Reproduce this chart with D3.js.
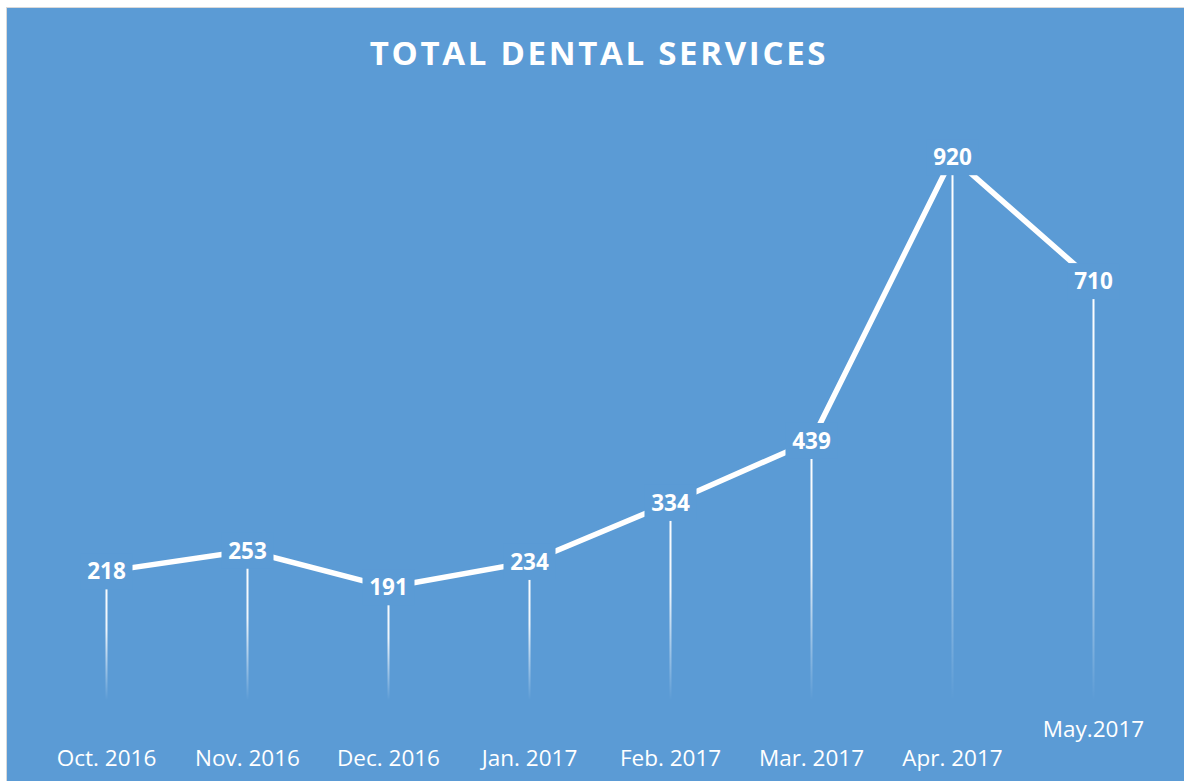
<!DOCTYPE html>
<html>
<head>
<meta charset="utf-8">
<script src="https://cdn.jsdelivr.net/npm/d3@7"></script>
<style>
  body { margin: 0; background: #fff; }
  svg { display: block; }
</style>
</head>
<body>
<svg id="chart"></svg>
<script>
// data
var months = ["Oct. 2016", "Nov. 2016", "Dec. 2016", "Jan. 2017", "Feb. 2017", "Mar. 2017", "Apr. 2017", "May.2017"]
var services = [218, 253, 191, 234, 334, 439, 920, 710]
var title = "TOTAL DENTAL SERVICES"

var dimensions = {
  width: 1184,
  height: 781,
  margin: { top: 110, bottom: 81, right: 20, left: 36 }
}
var bg = "#5B9BD5"

var svg = d3.select("#chart")
  .attr("width", dimensions.width)
  .attr("height", dimensions.height)

// chart area with thin grey frame
svg.append("rect")
  .attr("x", 6.5).attr("y", 7.5)
  .attr("width", dimensions.width + 10).attr("height", dimensions.height + 10)
  .attr("fill", bg)
  .attr("stroke", "#D9D9D9")
  .attr("stroke-width", 1)

svg.append("text")
  .attr("x", 599).attr("y", 65)
  .attr("text-anchor", "middle")
  .attr("fill", "#fff")
  .style("font-family", "'Open Sans', sans-serif")
  .style("font-weight", "bold")
  .style("font-size", "33px")
  .style("letter-spacing", "2.7px")
  .text(title)

var xScale = d3.scaleBand()
  .domain(months)
  .range([dimensions.margin.left, dimensions.margin.left + 141 * months.length])

var yScale = d3.scaleLinear()
  .domain([0, 1000])
  .range([dimensions.height - dimensions.margin.bottom, dimensions.margin.top])

var cx = d => xScale(d) + xScale.bandwidth() / 2
var data = months.map((m, i) => ({ month: m, value: services[i] }))

// fading drop lines, one gradient each
var defs = svg.append("defs")
data.forEach(function(d, i) {
  var g = defs.append("linearGradient")
    .attr("id", "drop" + i)
    .attr("gradientUnits", "userSpaceOnUse")
    .attr("x1", 0).attr("x2", 0)
    .attr("y1", yScale(d.value)).attr("y2", yScale(0))
  g.append("stop").attr("offset", "0").attr("stop-color", "#fff").attr("stop-opacity", 1)
  g.append("stop").attr("offset", "0.45").attr("stop-color", "#fff").attr("stop-opacity", 0.9)
  g.append("stop").attr("offset", "1").attr("stop-color", "#fff").attr("stop-opacity", 0)
})

svg.append("g")
  .selectAll("rect")
  .data(data)
  .enter()
  .append("rect")
  .attr("x", d => cx(d.month) - 1)
  .attr("y", d => yScale(d.value))
  .attr("width", 2)
  .attr("height", d => yScale(0) - yScale(d.value))
  .attr("fill", (d, i) => "url(#drop" + i + ")")

var line = d3.line()
  .x(d => cx(d.month))
  .y(d => yScale(d.value))

svg.append("path")
  .datum(data)
  .attr("d", line)
  .attr("fill", "none")
  .attr("stroke", "#fff")
  .attr("stroke-width", 5.5)
  .attr("stroke-linejoin", "round")

// data labels sit on a box of the background colour
var labels = svg.append("g")
  .selectAll("g")
  .data(data)
  .enter()
  .append("g")
  .attr("transform", d => `translate(${cx(d.month)},${yScale(d.value)})`)

labels.append("rect")
  .attr("x", -26).attr("y", -18)
  .attr("width", 52).attr("height", 36)
  .attr("fill", bg)

labels.append("text")
  .attr("text-anchor", "middle")
  .attr("dy", "0.36em")
  .attr("fill", "#fff")
  .style("font-family", "'Open Sans', sans-serif")
  .style("font-weight", "bold")
  .style("font-size", "22.5px")
  .text(d => d.value)

// category axis, no line or ticks
var xAxisGen = d3.axisBottom().scale(xScale).tickSize(0).tickPadding(0)
var xAxis = svg.append("g")
  .call(xAxisGen)
  .attr("transform", "translate(0,766)")

xAxis.select(".domain").remove()
xAxis.selectAll("text")
  .attr("y", 0)
  .attr("dy", 0)
  .attr("fill", "#fff")
  .style("font-family", "'Open Sans', sans-serif")
  .style("font-size", "22.5px")
// the last label sits higher in the original
xAxis.selectAll(".tick")
  .filter((d, i) => i == months.length - 1)
  .select("text")
  .attr("y", -29)
</script>
</body>
</html>
